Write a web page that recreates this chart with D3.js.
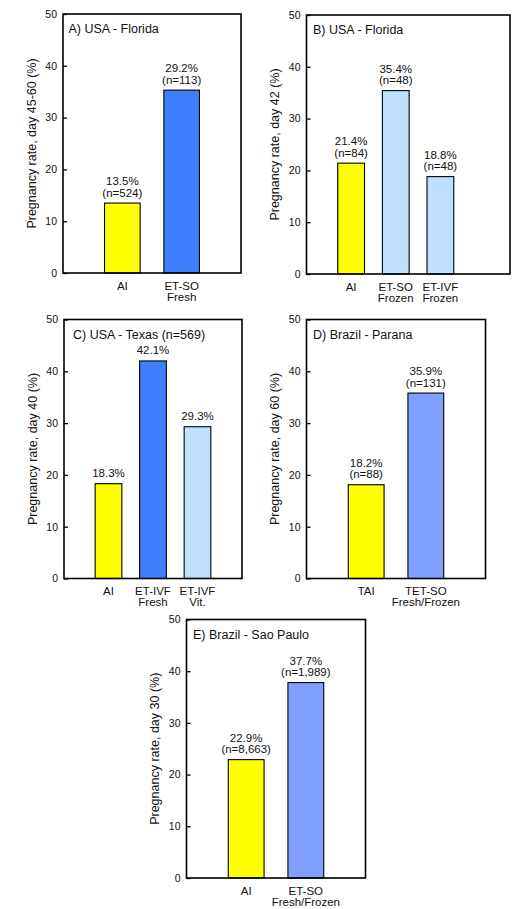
<!DOCTYPE html>
<html>
<head>
<meta charset="utf-8">
<script src="https://cdn.jsdelivr.net/npm/d3@7"></script>
<style>
  html, body { margin: 0; padding: 0; background: #fff; }
  svg { display: block; font-family: "Liberation Sans", Arial, sans-serif; }
</style>
</head>
<body>
<svg id="chart" width="513" height="909"></svg>
<script>
// ---------- DATA ----------
const panelTitles = ["A) USA - Florida", "B) USA - Florida", "C) USA - Texas (n=569)", "D) Brazil - Parana", "E) Brazil - Sao Paulo"];
const yAxisTitles = ["Pregnancy rate, day 45-60 (%)", "Pregnancy rate, day 42 (%)", "Pregnancy rate, day 40 (%)", "Pregnancy rate, day 60 (%)", "Pregnancy rate, day 30 (%)"];
const categoriesA = [["AI"], ["ET-SO", "Fresh"]];
const categoriesB = [["AI"], ["ET-SO", "Frozen"], ["ET-IVF", "Frozen"]];
const categoriesC = [["AI"], ["ET-IVF", "Fresh"], ["ET-IVF", "Vit."]];
const categoriesD = [["TAI"], ["TET-SO", "Fresh/Frozen"]];
const categoriesE = [["AI"], ["ET-SO", "Fresh/Frozen"]];
const valuesA = [13.5, 35.3];
const valuesB = [21.4, 35.4, 18.8];
const valuesC = [18.3, 42.0, 29.3];
const valuesD = [18.1, 35.8];
const valuesE = [22.9, 37.8];
const pctLabelsA = ["13.5%", "29.2%"];
const pctLabelsB = ["21.4%", "35.4%", "18.8%"];
const pctLabelsC = ["18.3%", "42.1%", "29.3%"];
const pctLabelsD = ["18.2%", "35.9%"];
const pctLabelsE = ["22.9%", "37.7%"];
const nLabelsA = ["(n=524)", "(n=113)"];
const nLabelsB = ["(n=84)", "(n=48)", "(n=48)"];
const nLabelsC = [null, null, null];
const nLabelsD = ["(n=88)", "(n=131)"];
const nLabelsE = ["(n=8,663)", "(n=1,989)"];
const groupsA = ["ai", "fresh"];
const groupsB = ["ai", "frozen", "frozen"];
const groupsC = ["ai", "fresh", "frozen"];
const groupsD = ["ai", "mixed"];
const groupsE = ["ai", "mixed"];
const yTicks = [0, 10, 20, 30, 40, 50];

// ---------- STYLE / LAYOUT ----------
const colors = { ai: "#ffff00", fresh: "#3f7fff", frozen: "#c0e0ff", mixed: "#80a0ff" };
const layout = [
  { x0: 63,    x1: 241,   y0: 14,    y1: 273,   xMax: 3,    titleDx: 5.5 },
  { x0: 306.5, x1: 510,   y0: 15,    y1: 274,   xMax: 4.56, titleDx: 6.5 },
  { x0: 64,    x1: 242,   y0: 319.5, y1: 578.5, xMax: 4,    titleDx: 9 },
  { x0: 306.5, x1: 485.5, y0: 319.5, y1: 578.5, xMax: 3,    titleDx: 6.5 },
  { x0: 186.5, x1: 365.5, y0: 619.5, y1: 878,   xMax: 3,    titleDx: 6.5 }
];
const panels = [
  { cats: categoriesA, vals: valuesA, pct: pctLabelsA, n: nLabelsA, groups: groupsA },
  { cats: categoriesB, vals: valuesB, pct: pctLabelsB, n: nLabelsB, groups: groupsB },
  { cats: categoriesC, vals: valuesC, pct: pctLabelsC, n: nLabelsC, groups: groupsC },
  { cats: categoriesD, vals: valuesD, pct: pctLabelsD, n: nLabelsD, groups: groupsD },
  { cats: categoriesE, vals: valuesE, pct: pctLabelsE, n: nLabelsE, groups: groupsE }
];

const svg = d3.select("#chart");

panels.forEach((p, i) => {
  const L = layout[i];
  const x = d3.scaleLinear().domain([0, L.xMax]).range([L.x0, L.x1]);
  const y = d3.scaleLinear().domain([0, 50]).range([L.y1, L.y0]);
  const bw = x(0.6) - x(0);
  const g = svg.append("g");

  // bars
  p.vals.forEach((v, j) => {
    g.append("rect")
      .attr("x", x(j + 1) - bw / 2)
      .attr("y", y(v))
      .attr("width", bw)
      .attr("height", y(0) - y(v))
      .attr("fill", colors[p.groups[j]])
      .attr("stroke", "#000")
      .attr("stroke-width", 1.1);

    // value labels
    const cx = x(j + 1);
    const top = y(v);
    const lines = p.n[j] ? [p.pct[j], p.n[j]] : [p.pct[j]];
    lines.forEach((t, k) => {
      g.append("text")
        .attr("x", cx)
        .attr("y", top - 6.5 - (lines.length - 1 - k) * 11.5)
        .attr("text-anchor", "middle")
        .attr("font-size", 11.5)
        .attr("fill", "#111")
        .text(t);
    });

    // category labels
    p.cats[j].forEach((t, k) => {
      g.append("text")
        .attr("x", cx)
        .attr("y", L.y1 + 16.5 + k * 11)
        .attr("text-anchor", "middle")
        .attr("font-size", 11.5)
        .attr("fill", "#111")
        .text(t);
    });
  });

  // y axis
  const ax = g.append("g")
    .attr("transform", `translate(${L.x0},0)`)
    .call(d3.axisLeft(y).tickValues(yTicks).tickSizeInner(-4).tickSizeOuter(0).tickPadding(6));
  ax.select(".domain").remove();
  ax.selectAll(".tick line").attr("stroke", "#000").attr("stroke-width", 1.3);
  ax.selectAll(".tick text").attr("font-size", 10.5).attr("fill", "#111")
    .attr("font-family", "'Liberation Sans', Arial, sans-serif");

  // frame
  g.append("rect")
    .attr("x", L.x0).attr("y", L.y0)
    .attr("width", L.x1 - L.x0).attr("height", L.y1 - L.y0)
    .attr("fill", "none").attr("stroke", "#000").attr("stroke-width", 1.6);

  // panel title
  g.append("text")
    .attr("x", L.x0 + L.titleDx)
    .attr("y", L.y0 + 19)
    .attr("font-size", 12.5)
    .attr("fill", "#111")
    .text(panelTitles[i]);

  // y title
  g.append("text")
    .attr("transform", `translate(${L.x0 - 27.5},${(L.y0 + L.y1) / 2}) rotate(-90)`)
    .attr("text-anchor", "middle")
    .attr("font-size", 12.5)
    .attr("fill", "#111")
    .text(yAxisTitles[i]);
});
</script>
</body>
</html>
